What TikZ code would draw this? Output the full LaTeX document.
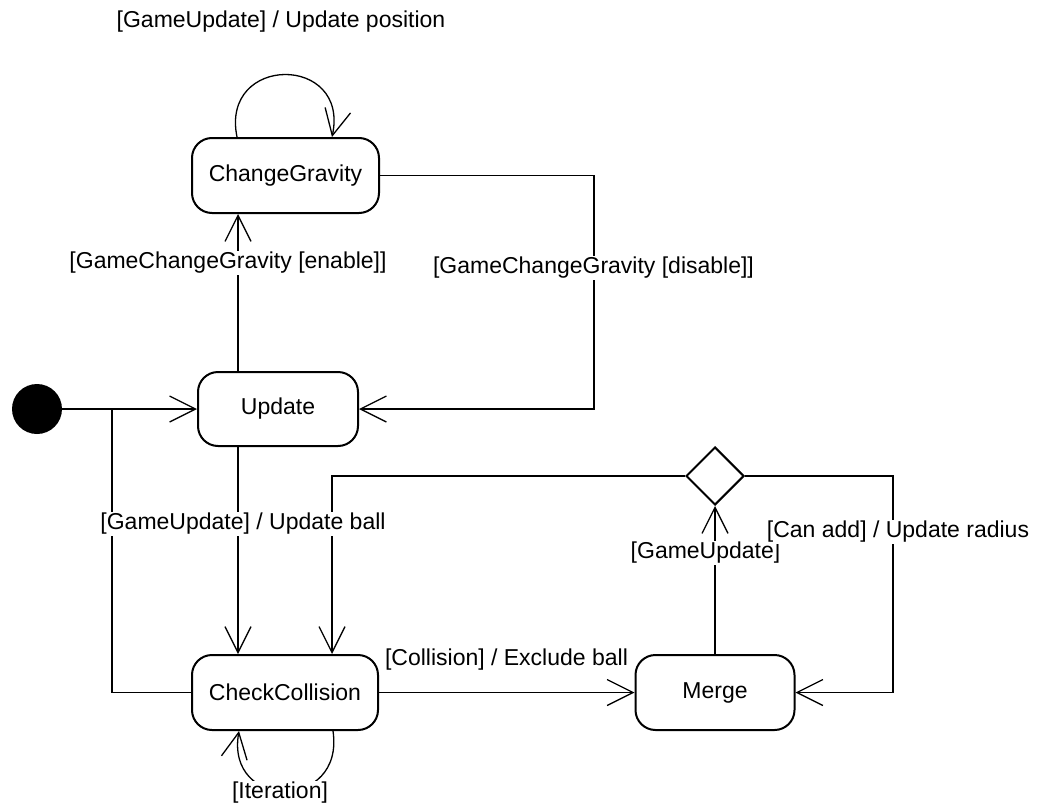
\documentclass[tikz,border=0pt]{standalone}
\usepackage{fontspec}
\setmainfont{Liberation Sans}
\usetikzlibrary{arrows.meta,shapes.geometric}
\begin{document}
\begin{tikzpicture}[x=1pt,y=-1pt,
  state/.style={draw, line width=2pt, rounded corners=20pt, inner sep=0pt, font=\fontsize{23}{28}\selectfont},
  conn/.style={line width=1.3pt},
  arr/.style={conn, -{Straight Barb[length=26pt,width=26pt]}},
  lbl/.style={fill=white, inner sep=1pt, font=\fontsize{23}{28}\selectfont}]
\useasboundingbox (0,0) rectangle (1042,811);
% states
\node[state, minimum width=187pt, minimum height=75pt] (cg) at (285.5,175.5) {ChangeGravity};
\node[state, minimum width=160pt, minimum height=74pt] (upd) at (278,409) {Update};
\node[state, minimum width=186pt, minimum height=75pt] (chk) at (285,692.5) {CheckCollision};
\node[state, minimum width=159pt, minimum height=75pt] (mrg) at (715,692.5) {Merge};
\node[diamond, draw, line width=2pt, minimum width=58pt, minimum height=58pt, inner sep=0pt] (dec) at (715,476) {};
\node[circle, fill=black, minimum size=50pt, inner sep=0pt] (init) at (37,409) {};
% helper coordinates
\coordinate (j) at (112,409);
\coordinate (xa) at (238,0);
\coordinate (xb) at (332,0);
\coordinate (c1) at (594,409);
\coordinate (c2) at (893,692.5);
% connectors
\draw[arr] (init.east) -- (upd.west);
\draw[conn] (chk.west) -| (j);
\draw[arr] ([xshift=-48.5pt]cg.north) .. controls +(-17,-83) and +(18,-83) .. ([xshift=46.5pt]cg.north);
\draw[arr] (upd.north -| xa) -- (cg.south -| xa);
\draw[arr] (cg.east) -| (c1) -- (upd.east);
\draw[arr] (upd.south -| xa) -- (chk.north -| xa);
\draw[arr] (dec.west) -| (chk.north -| xb);
\draw[arr] (chk.east) -- (mrg.west);
\draw[arr] (mrg.north) -- (dec.south);
\draw[arr] (dec.east) -| (c2) -- (mrg.east);
\draw[arr] ([xshift=48pt]chk.south) .. controls +(12,80) and +(-14,80) .. ([xshift=-46pt]chk.south);
% labels
\node[lbl] (l1) at (281,22) {[GameUpdate] / Update position};
\node[lbl] (l2) at (228,263) {[GameChangeGravity [enable]]};
\node[lbl] (l3) at (593.5,268) {[GameChangeGravity [disable]]};
\node[lbl] (l4) at (243,524) {[GameUpdate] / Update ball};
\node[lbl] (l5) at (705.5,553) {[GameUpdate]};
\node[lbl] (l6) at (898,532) {[Can add] / Update radius};
\node[lbl] (l7) at (506.5,660) {[Collision] / Exclude ball};
\node[lbl] (l8) at (280,793) {[Iteration]};
\end{tikzpicture}
\end{document}
